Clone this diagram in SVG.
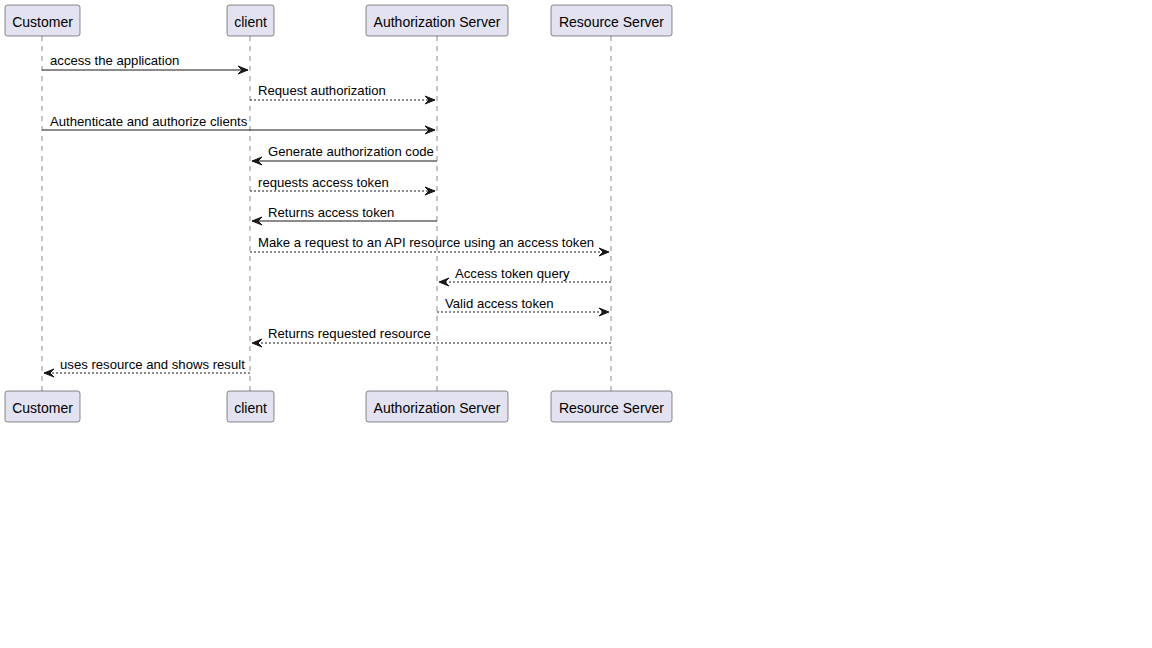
<svg xmlns="http://www.w3.org/2000/svg" width="1152" height="648" viewBox="0 0 1152 648">
<style>
.p rect{fill:#E2E2F0;stroke:#181818;stroke-width:0.5}
.p text{font-family:"Liberation Sans",Arial,sans-serif;font-size:14px;fill:#000;text-anchor:middle}
.life{stroke:#181818;stroke-width:0.5;stroke-dasharray:5,5}
.m{stroke:#181818;stroke-width:1;fill:none}
.d{stroke-dasharray:2,2}
.t{font-family:"Liberation Sans",Arial,sans-serif;font-size:13.15px;fill:#000}
</style>
<defs>
<marker id="ah" viewBox="-1 -1 12 10" refX="10" refY="4" markerWidth="12" markerHeight="10" markerUnits="userSpaceOnUse" orient="auto">
<polygon points="0,0 10,4 0,8 4,4" fill="#181818" stroke="#181818" stroke-width="1" stroke-linejoin="miter"/>
</marker>
</defs>
<rect width="1152" height="648" fill="#fff"/>
<g id="lifelines">
<line class="life" x1="42" y1="36" x2="42" y2="391"/>
<line class="life" x1="250" y1="36" x2="250" y2="391"/>
<line class="life" x1="437" y1="36" x2="437" y2="391"/>
<line class="life" x1="611" y1="36" x2="611" y2="391"/>
</g>
<g id="customer" class="p">
<rect x="5" y="5" width="75" height="31" rx="2.5"/><text x="42.5" y="26.5">Customer</text>
<rect x="5" y="391" width="75" height="31" rx="2.5"/><text x="42.5" y="412.5">Customer</text>
</g>
<g id="client" class="p">
<rect x="227" y="5" width="47" height="31" rx="2.5"/><text x="250.5" y="26.5">client</text>
<rect x="227" y="391" width="47" height="31" rx="2.5"/><text x="250.5" y="412.5">client</text>
</g>
<g id="authserver" class="p">
<rect x="366" y="5" width="142" height="31" rx="2.5"/><text x="437" y="26.5">Authorization Server</text>
<rect x="366" y="391" width="142" height="31" rx="2.5"/><text x="437" y="412.5">Authorization Server</text>
</g>
<g id="resserver" class="p">
<rect x="551" y="5" width="121" height="31" rx="2.5"/><text x="611.5" y="26.5">Resource Server</text>
<rect x="551" y="391" width="121" height="31" rx="2.5"/><text x="611.5" y="412.5">Resource Server</text>
</g>
<g id="connectors">
<line class="m" x1="42" y1="70" x2="248" y2="70" marker-end="url(#ah)"/>
<line class="m d" x1="250" y1="100" x2="435" y2="100" marker-end="url(#ah)"/>
<line class="m" x1="42" y1="130" x2="435" y2="130" marker-end="url(#ah)"/>
<line class="m" x1="437" y1="161" x2="252" y2="161" marker-end="url(#ah)"/>
<line class="m d" x1="250" y1="191" x2="435" y2="191" marker-end="url(#ah)"/>
<line class="m" x1="437" y1="221" x2="252" y2="221" marker-end="url(#ah)"/>
<line class="m d" x1="250" y1="252" x2="609" y2="252" marker-end="url(#ah)"/>
<line class="m d" x1="611" y1="282" x2="439" y2="282" marker-end="url(#ah)"/>
<line class="m d" x1="437" y1="312" x2="609" y2="312" marker-end="url(#ah)"/>
<line class="m d" x1="611" y1="343" x2="252" y2="343" marker-end="url(#ah)"/>
<line class="m d" x1="250" y1="373" x2="44" y2="373" marker-end="url(#ah)"/>
</g>
<g id="labels">
<text class="t" x="50" y="65">access the application</text>
<text class="t" x="258" y="95">Request authorization</text>
<text class="t" x="50" y="126">Authenticate and authorize clients</text>
<text class="t" x="268" y="156">Generate authorization code</text>
<text class="t" x="258" y="187">requests access token</text>
<text class="t" x="268" y="217">Returns access token</text>
<text class="t" x="258" y="247">Make a request to an API resource using an access token</text>
<text class="t" x="455" y="278">Access token query</text>
<text class="t" x="445" y="308">Valid access token</text>
<text class="t" x="268" y="338">Returns requested resource</text>
<text class="t" x="60" y="369">uses resource and shows result</text>
</g>
</svg>
